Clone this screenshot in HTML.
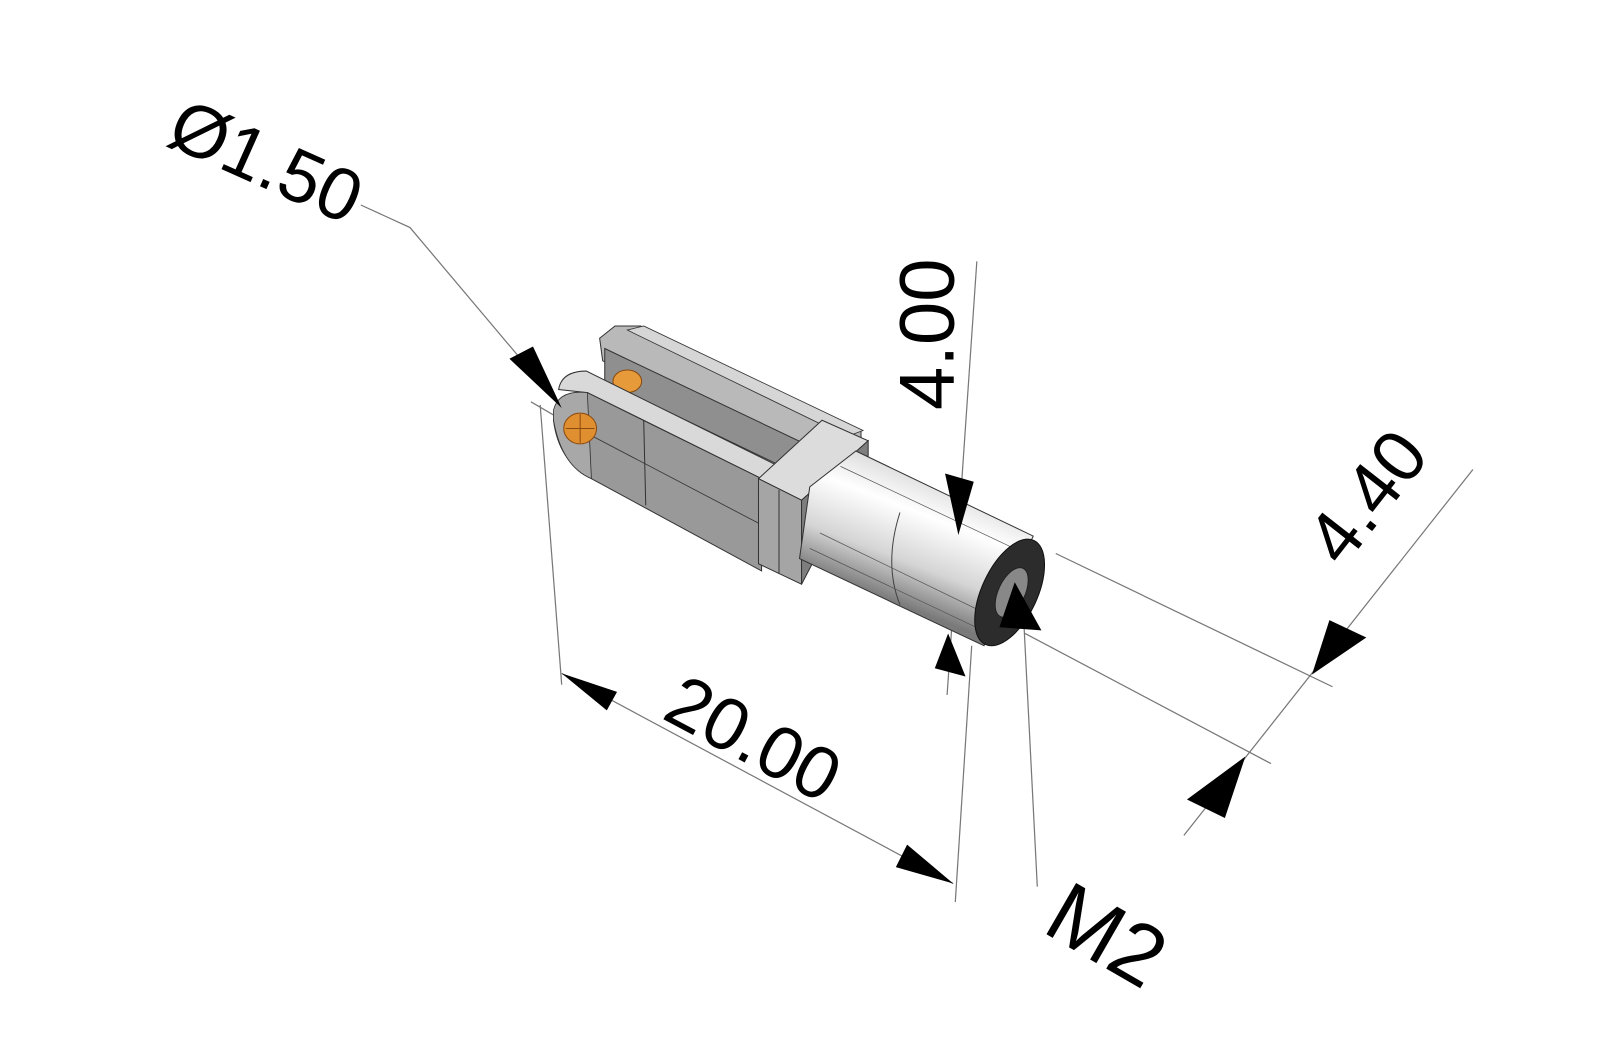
<!DOCTYPE html>
<html><head><meta charset="utf-8"><style>html,body{margin:0;padding:0;background:#fff}svg{display:block}</style></head>
<body>
<svg width="1600" height="1042" viewBox="0 0 1600 1042" xmlns="http://www.w3.org/2000/svg" font-family="Liberation Sans, sans-serif">
<defs>
<linearGradient id="cyl" gradientUnits="userSpaceOnUse" x1="850" y1="430" x2="800" y2="560">
<stop offset="0" stop-color="#d0d0d0"/><stop offset="0.35" stop-color="#ffffff"/><stop offset="0.7" stop-color="#d5d5d5"/><stop offset="1" stop-color="#7a7a7a"/>
</linearGradient>
</defs>
<g transform="scale(1.025)">
<g stroke="#777" stroke-width="1.2" fill="none">
<polyline points="352,200 400,222 550,400"/>
<line x1="953" y1="255" x2="924" y2="678"/>
<line x1="527" y1="395" x2="548" y2="668"/>
<line x1="948" y1="630" x2="932" y2="880"/>
<line x1="548" y1="657" x2="930" y2="862"/>
<line x1="1030" y1="540" x2="1300" y2="670"/>
<line x1="1000" y1="618" x2="1240" y2="745"/>
<line x1="1437" y1="458" x2="1155" y2="815"/>
<line x1="998" y1="590" x2="1012" y2="865"/>
<line x1="518" y1="392" x2="600" y2="440"/>
</g>
<polygon points="585,330 600,318 625,318 840,420 840,438 800,452 588,352" fill="#b9b9b9" stroke="#333" stroke-width="1"/>
<polygon points="590,340 800,440 790,468 590,372" fill="#8f8f8f" stroke="#333" stroke-width="1"/>
<polygon points="612,322 628,318 842,420 826,426" fill="#d6d6d6" stroke="#333" stroke-width="0.8"/>
<ellipse cx="612" cy="372" rx="14" ry="11" fill="#e69a3a" stroke="#8a4a10"/>
<path d="M545,380 Q548,362 572,362 L760,455 L743,467 L573,383 Z" fill="#d9d9d9" stroke="#333" stroke-width="1"/>
<path d="M573,383 L743,467 L743,557 L577,467 Q545,450 540,410 Q542,385 573,383 Z" fill="#999" stroke="#333" stroke-width="1"/>
<path d="M540,400 Q545,380 573,383 L577,467 Q548,455 540,410 Z" fill="#a8a8a8" stroke="#333" stroke-width="0.8"/>
<line x1="628" y1="410" x2="630" y2="493" stroke="#333"/>
<line x1="577" y1="425" x2="743" y2="512" stroke="#333" stroke-width="0.8"/>
<ellipse cx="566" cy="418" rx="16" ry="15" fill="#e08f30" stroke="#8a4a10"/>
<path d="M552,418 H580 M566,404 V432" stroke="#8a4a10" stroke-width="1"/>
<polygon points="740,467 782,488 847,430 802,410" fill="#dcdcdc" stroke="#333" stroke-width="1"/>
<polygon points="740,467 782,488 782,570 740,550" fill="#a5a5a5" stroke="#333" stroke-width="1"/>
<polygon points="782,488 847,430 847,445 782,570" fill="#7e7e7e" stroke="#333" stroke-width="1"/>
<line x1="760" y1="478" x2="760" y2="560" stroke="#333"/>
<polygon points="790,475 835,440 1008,523 960,630 780,545" fill="url(#cyl)" stroke="#333" stroke-width="1"/>
<path d="M878,500 Q862,550 878,590" fill="none" stroke="#444"/>
<g stroke="#555" stroke-width="0.7" fill="none">
<line x1="820" y1="455" x2="1000" y2="540"/><line x1="800" y1="520" x2="975" y2="605"/><line x1="790" y1="535" x2="965" y2="618"/>
</g>
<ellipse cx="985" cy="578" rx="27" ry="56" transform="rotate(25 985 578)" fill="#2c2c2c" stroke="#111"/>
<ellipse cx="987" cy="578" rx="13" ry="26" transform="rotate(25 987 578)" fill="#888" stroke="#222"/>
<g fill="#000">
<polygon points="548,398 497,350 520,338"/>
<polygon points="935,522 922,462 950,470"/>
<polygon points="925,618 912,652 942,660"/>
<polygon points="548,657 602,675 592,693"/>
<polygon points="930,862 874,846 885,824"/>
<polygon points="1280,658 1297,605 1333,622"/>
<polygon points="1215,738 1158,780 1195,798"/>
<polygon points="990,568 975,612 1016,615"/>
</g>
<g font-size="72" fill="#000">
<text x="0" y="0" transform="translate(160,140) rotate(24)">Ø1.50</text>
<text x="0" y="0" font-size="76" transform="translate(930,400) rotate(-90)">4.00</text>
<text x="0" y="0" transform="translate(644,700) rotate(28)">20.00</text>
<text x="0" y="0" transform="translate(1310,555) rotate(-52)">4.40</text>
<text x="0" y="0" font-size="84" transform="translate(1015,908) rotate(30)">M2</text>
</g>
</g>
</svg>
</body></html>
